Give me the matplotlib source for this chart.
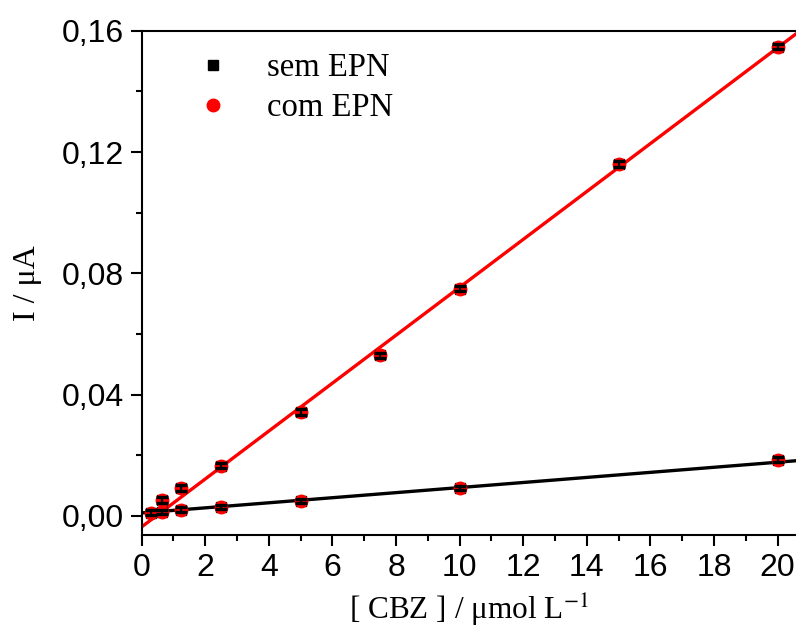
import matplotlib
matplotlib.use("Agg")
import matplotlib.pyplot as plt
import numpy as np

# Peak current vs. CBZ concentration, without / with EPN
conc_sem = [0.3, 0.625, 1.25, 2.5, 5.0, 10.0, 20.0]
curr_sem = [0.0010, 0.0013, 0.0020, 0.0030, 0.0050, 0.0093, 0.0185]
err_sem = [0.0008, 0.0008, 0.0008, 0.0007, 0.0007, 0.0007, 0.0008]

conc_com = [0.625, 1.25, 2.5, 5.0, 7.5, 10.0, 15.0, 20.0]
curr_com = [0.0053, 0.0092, 0.0165, 0.0343, 0.0530, 0.0750, 0.1162, 0.1548]
err_com = [0.0010, 0.0010, 0.0008, 0.0010, 0.0009, 0.0009, 0.0010, 0.0009]

# Linear fits (slope, intercept)
fit_sem = (0.000836, 0.0010)
fit_com = (0.00790, -0.0036)

x_ticks = [0, 2, 4, 6, 8, 10, 12, 14, 16, 18, 20]
y_ticks = [0.00, 0.04, 0.08, 0.12, 0.16]
y_tick_labels = ["0,00", "0,04", "0,08", "0,12", "0,16"]

plt.rcParams["mathtext.fontset"] = "stix"

fig = plt.figure(figsize=(7.96, 6.28), dpi=100)
ax = fig.add_axes([0.178, 0.148, 0.822, 0.803])

xmax = 20.58
ax.set_xlim(0, xmax)
ax.set_ylim(-0.0063, 0.16)

xs = np.array([0, xmax])
ax.plot(xs, fit_sem[0] * xs + fit_sem[1], color="black", lw=2.4, zorder=2)
ax.plot(xs, fit_com[0] * xs + fit_com[1], color="#ff0000", lw=2.4, zorder=2)

# Every measured point is drawn with both markers and error bars
all_x = conc_sem + conc_com
all_y = curr_sem + curr_com
all_e = err_sem + err_com
ax.errorbar(all_x, all_y, yerr=all_e, fmt="none", ecolor="#ff0000",
            elinewidth=2.2, capsize=3.5, capthick=2.2, zorder=3)
ax.plot(all_x, all_y, ls="none", marker="s", ms=7.5, color="black", zorder=4)
ax.plot(all_x, all_y, ls="none", marker="o", ms=9, color="#ff0000", zorder=5)
ax.errorbar(all_x, all_y, yerr=all_e, fmt="none", ecolor="black",
            elinewidth=1.6, capsize=4.5, capthick=2.4, zorder=6)

# Legend
h1, = ax.plot([], [], ls="none", marker="s", ms=7, color="black")
h2, = ax.plot([], [], ls="none", marker="o", ms=9, color="#ff0000")
ax.legend([h1, h2], ["sem EPN", "com EPN"], frameon=False,
          loc="upper left", bbox_to_anchor=(0.039, 1.015),
          prop={"family": "Liberation Serif", "size": 23.5},
          handlelength=1.0, handletextpad=1.17, labelspacing=0.3)

ax.set_xticks(x_ticks)
ax.set_xticks(np.arange(1, 21, 2), minor=True)
ax.set_yticks(y_ticks)
ax.set_yticklabels(y_tick_labels)
ax.set_yticks([0.02, 0.06, 0.10, 0.14], minor=True)

for lab in ax.get_xticklabels() + ax.get_yticklabels():
    lab.set_fontfamily("Liberation Sans")
    lab.set_fontsize(23)

ax.tick_params(which="major", direction="out", length=8, width=1.5, pad=5)
ax.tick_params(which="minor", direction="out", length=4, width=1.5)
ax.tick_params(top=False, right=False)

for side in ("left", "bottom", "top"):
    ax.spines[side].set_linewidth(1.5)
ax.spines["right"].set_visible(False)

ax.set_xlabel("[ CBZ ] / \u03bcmol L$^{-1}$", family="Liberation Serif",
              fontsize=22.5, labelpad=6)
ax.set_ylabel("I / \u03bcA", family="Liberation Serif", fontsize=23, labelpad=14)

fig.savefig("out.png", dpi=100)
